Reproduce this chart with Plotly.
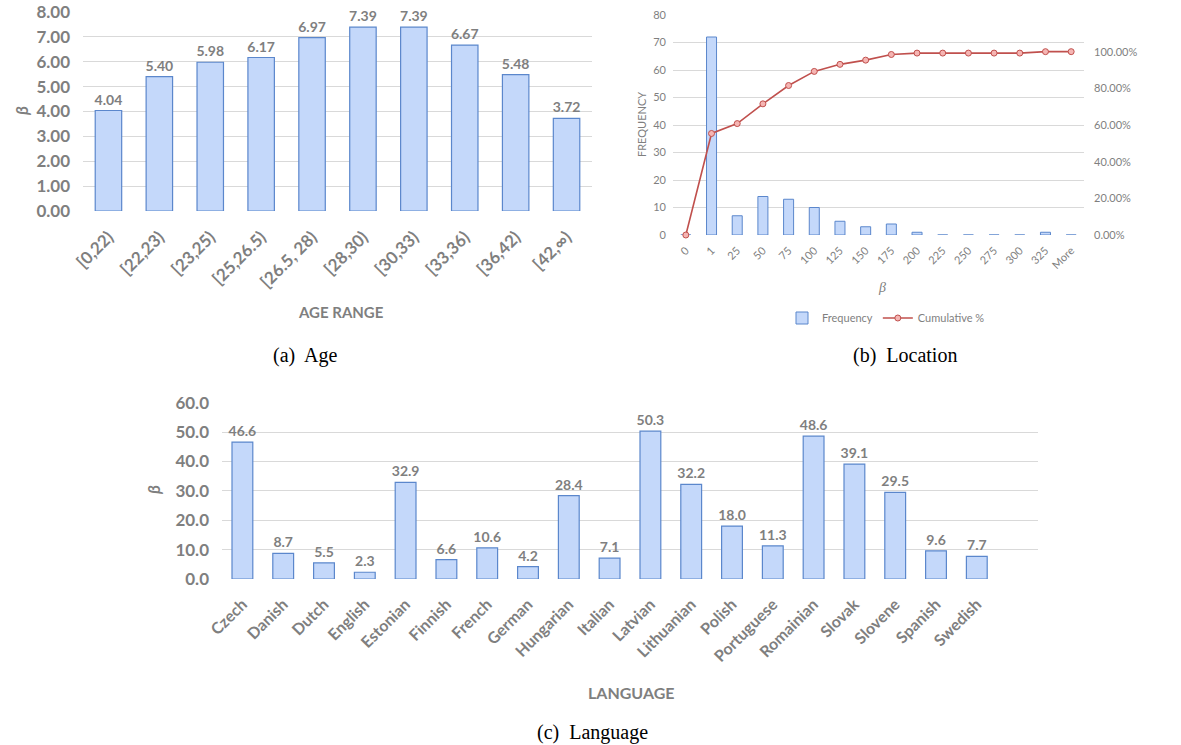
import plotly.graph_objects as go

# ---------------- data ----------------
age_ranges = ["[0,22)", "[22,23)", "[23,25)", "[25,26.5)", "[26.5, 28)", "[28,30)",
              "[30,33)", "[33,36)", "[36,42)", "[42,\u221e)"]
age_beta = [4.04, 5.40, 5.98, 6.17, 6.97, 7.39, 7.39, 6.67, 5.48, 3.72]

loc_bins = ["0", "1", "25", "50", "75", "100", "125", "150", "175", "200", "225",
            "250", "275", "300", "325", "More"]
loc_freq = [0, 72, 7, 14, 13, 10, 5, 3, 4, 1, 0, 0, 0, 0, 1, 0]
loc_cum = [0.0, 0.5538, 0.6077, 0.7154, 0.8154, 0.8923, 0.9308, 0.9538, 0.9846,
           0.9923, 0.9923, 0.9923, 0.9923, 0.9923, 1.0, 1.0]

languages = ["Czech", "Danish", "Dutch", "English", "Estonian", "Finnish", "French",
             "German", "Hungarian", "Italian", "Latvian", "Lithuanian", "Polish",
             "Portuguese", "Romainian", "Slovak", "Slovene", "Spanish", "Swedish"]
lang_beta = [46.6, 8.7, 5.5, 2.3, 32.9, 6.6, 10.6, 4.2, 28.4, 7.1, 50.3, 32.2, 18.0,
             11.3, 48.6, 39.1, 29.5, 9.6, 7.7]

# ---------------- styles ----------------
W, H = 1181, 745
GREY = "#7f7f7f"
GRID = "#d9d9d9"
BAR_FILL = "#c4d8fa"
BAR_LINE = "#5b87cc"
RED = "#c0504d"
SANS = "Lato, 'Open Sans', sans-serif"
SERIF = "'Liberation Serif', 'DejaVu Serif', serif"


def px_x(p):
    return p / W


def px_y(p):
    return 1 - p / H


fig = go.Figure()

# (a) Age
fig.add_trace(go.Bar(
    x=age_ranges, y=age_beta, width=0.52,
    marker=dict(color=BAR_FILL, line=dict(color=BAR_LINE, width=1.2)),
    text=[f"{v:.2f}" for v in age_beta], texttemplate="<b>%{text}</b>",
    textposition="outside", constraintext="none",
    textfont=dict(family=SANS, size=14, color=GREY),
    cliponaxis=False, showlegend=False, xaxis="x", yaxis="y"))

# (b) Location
fig.add_trace(go.Bar(
    x=loc_bins, y=loc_freq, width=0.39, name="Frequency",
    marker=dict(color=BAR_FILL, line=dict(color=BAR_LINE, width=1)),
    xaxis="x2", yaxis="y2"))
fig.add_trace(go.Scatter(
    x=loc_bins, y=loc_cum, name="Cumulative %", mode="lines+markers",
    line=dict(color=RED, width=1.6),
    marker=dict(symbol="circle", size=6, color="#f5b5b3", line=dict(color=RED, width=1)),
    cliponaxis=False, xaxis="x2", yaxis="y3"))

# (c) Language
fig.add_trace(go.Bar(
    x=languages, y=lang_beta, width=0.51,
    marker=dict(color=BAR_FILL, line=dict(color=BAR_LINE, width=1.2)),
    text=[f"{v:.1f}" for v in lang_beta], texttemplate="<b>%{text}</b>",
    textposition="outside", constraintext="none",
    textfont=dict(family=SANS, size=14, color=GREY),
    cliponaxis=False, showlegend=False, xaxis="x3", yaxis="y4"))

axis_common = dict(showline=False, zeroline=False, ticks="", automargin=False,
                   ticklabeloverflow="allow")

fig.update_layout(
    width=W, height=H, autosize=False,
    margin=dict(l=0, r=0, t=0, b=0, autoexpand=False),
    paper_bgcolor="white", plot_bgcolor="white",
    font=dict(family=SANS, color=GREY),
    barmode="overlay",
    # panel a
    xaxis=dict(domain=[px_x(83), px_x(592)], anchor="y", type="category",
               categoryorder="array", categoryarray=age_ranges,
               range=[-0.5, 9.5], tickangle=-45, showgrid=False,
               tickprefix="<b>", ticksuffix="</b>", ticklabelstandoff=12,
               tickfont=dict(family=SANS, size=17, color=GREY), **axis_common),
    yaxis=dict(domain=[px_y(211), px_y(12)], anchor="x", range=[0, 8], dtick=1,
               tickformat=".2f", showgrid=True, gridcolor=GRID, gridwidth=1,
               tickprefix="<b>", ticksuffix="</b>", ticklabelstandoff=12,
               tickfont=dict(family=SANS, size=17, color=GREY), **axis_common),
    # panel b
    xaxis2=dict(domain=[px_x(673), px_x(1084)], anchor="y2", type="category",
                categoryorder="array", categoryarray=loc_bins,
                range=[-0.5, 15.5], tickangle=-45, showgrid=False, ticklabelstandoff=6,
                tickfont=dict(family=SANS, size=11, color=GREY), **axis_common),
    yaxis2=dict(domain=[px_y(235), px_y(15)], anchor="x2", range=[0, 80], dtick=10,
                showgrid=True, gridcolor=GRID, gridwidth=1, ticklabelstandoff=6,
                tickfont=dict(family=SANS, size=11, color=GREY), **axis_common),
    yaxis3=dict(overlaying="y2", side="right", anchor="x2", range=[0, 1.2],
                tickvals=[0, 0.2, 0.4, 0.6, 0.8, 1.0], tickformat=".2%",
                showgrid=False, ticklabelstandoff=9,
                tickfont=dict(family=SANS, size=11, color=GREY), **axis_common),
    # panel c
    xaxis3=dict(domain=[px_x(222), px_x(1038)], anchor="y4", type="category",
                categoryorder="array", categoryarray=languages,
                range=[-0.5, 19.5], tickangle=-45, showgrid=False,
                tickprefix="<b>", ticksuffix="</b>", ticklabelstandoff=12,
                tickfont=dict(family=SANS, size=16, color=GREY), **axis_common),
    yaxis4=dict(domain=[px_y(579), px_y(402.7)], anchor="x3", range=[0, 60], dtick=10,
                tickformat=".1f", showgrid=True, gridcolor=GRID, gridwidth=1,
                tickprefix="<b>", ticksuffix="</b>", ticklabelstandoff=12,
                tickfont=dict(family=SANS, size=17, color=GREY), **axis_common),
    legend=dict(orientation="h", x=px_x(886), xanchor="center", y=px_y(318),
                yanchor="middle", font=dict(family=SANS, size=11, color=GREY),
                bgcolor="rgba(0,0,0,0)", tracegroupgap=0),
)

annotations = [
    # panel a titles
    dict(text="<b><i>\u03b2</i></b>", x=px_x(22), y=px_y(111), textangle=-90,
         font=dict(family=SANS, size=17, color=GREY)),
    dict(text="<b>AGE RANGE</b>", x=px_x(341), y=px_y(312),
         font=dict(family=SANS, size=15, color=GREY)),
    dict(text="(a)\u00a0 Age", x=px_x(305), y=px_y(355),
         font=dict(family=SERIF, size=20, color="black")),
    # panel b titles
    dict(text="FREQUENCY", x=px_x(642), y=px_y(125), textangle=-90,
         font=dict(family=SANS, size=11, color=GREY)),
    dict(text="<i>\u03b2</i>", x=px_x(882), y=px_y(288),
         font=dict(family=SERIF, size=14, color=GREY)),
    dict(text="(b)\u00a0 Location", x=px_x(905), y=px_y(355),
         font=dict(family=SERIF, size=20, color="black")),
    # panel c titles
    dict(text="<b><i>\u03b2</i></b>", x=px_x(153), y=px_y(490), textangle=-90,
         font=dict(family=SANS, size=17, color=GREY)),
    dict(text="<b>LANGUAGE</b>", x=px_x(631), y=px_y(692),
         font=dict(family=SANS, size=16, color=GREY)),
    dict(text="(c)\u00a0 Language", x=px_x(592), y=px_y(732),
         font=dict(family=SERIF, size=20, color="black")),
]
for a in annotations:
    a.update(xref="paper", yref="paper", showarrow=False, xanchor="center", yanchor="middle")
fig.update_layout(annotations=annotations)

# remove the default page margin so the figure fills the window exactly
fig.write_html("out.html", config={"displayModeBar": False},
               post_script="document.body.style.margin='0px';")
